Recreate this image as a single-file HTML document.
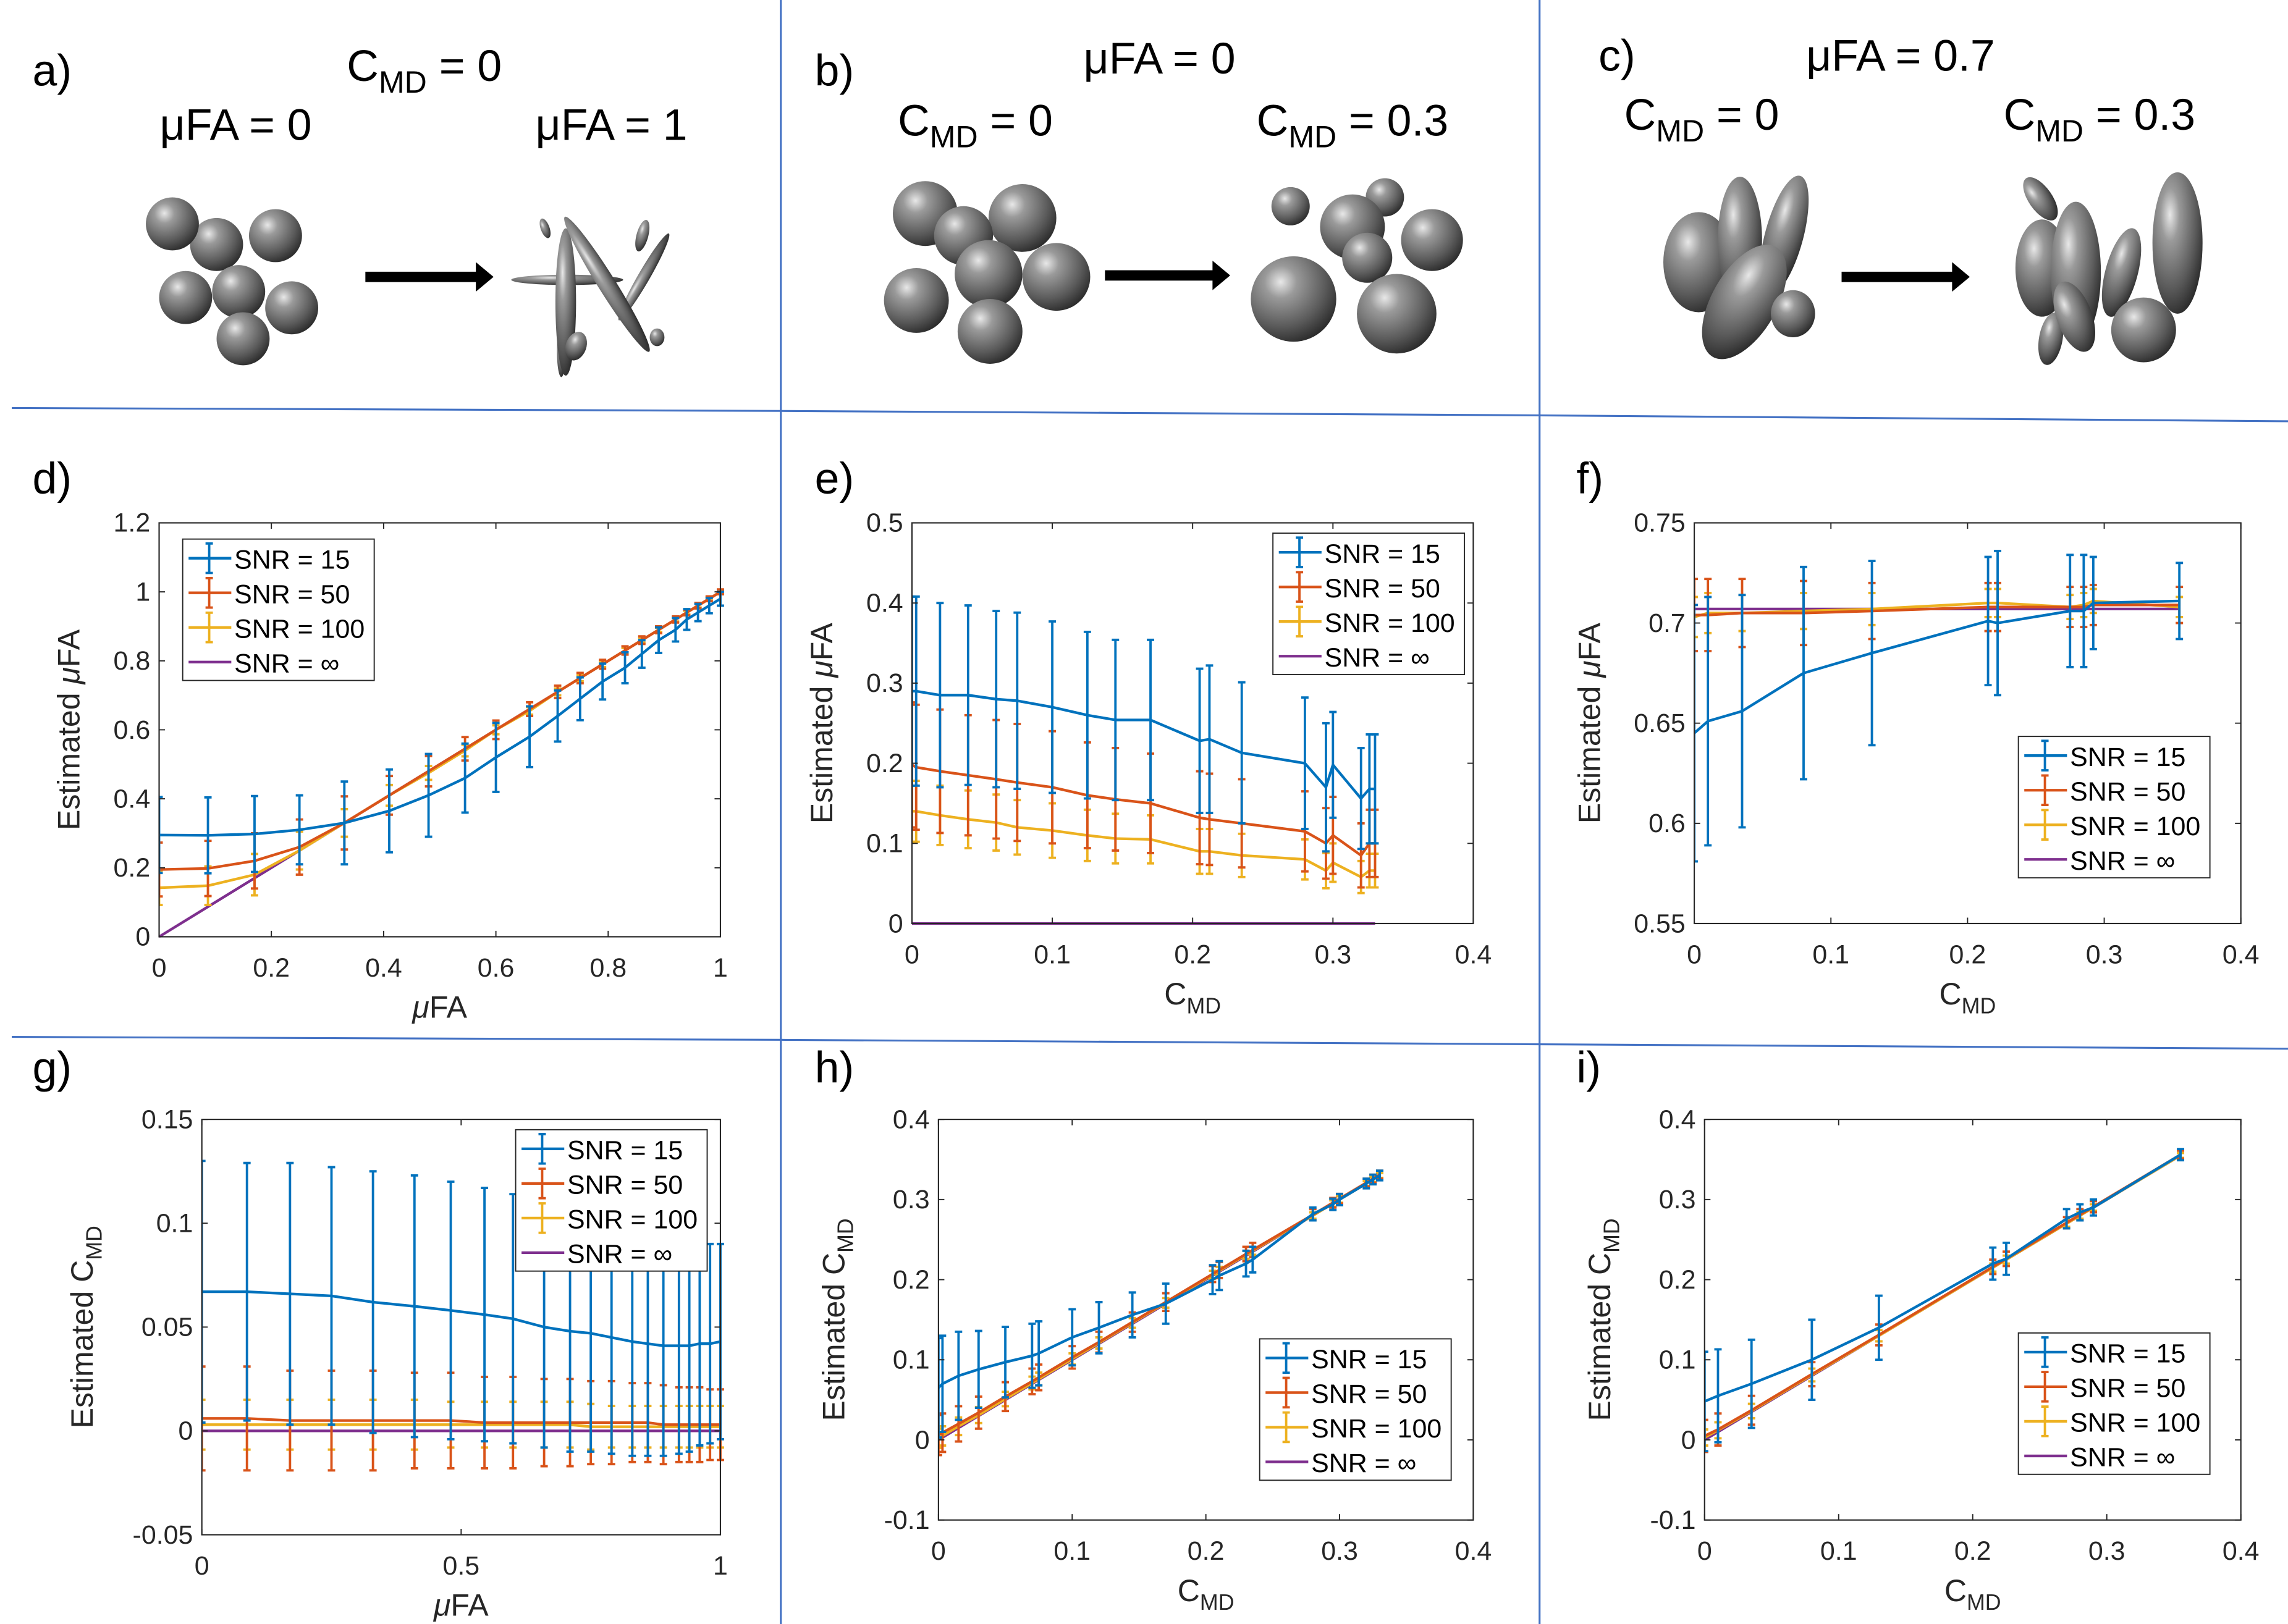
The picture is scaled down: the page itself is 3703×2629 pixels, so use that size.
<!DOCTYPE html>
<html><head><meta charset="utf-8"><style>
html,body{margin:0;padding:0;background:#fff}
svg{display:block}
text{font-family:"Liberation Sans",sans-serif}
</style></head><body>
<svg id="fig" xmlns="http://www.w3.org/2000/svg" width="3703" height="2629" viewBox="0 0 1553 1102.6" preserveAspectRatio="none">
<defs>
<radialGradient id="sph" cx="0.35" cy="0.3" r="0.75"><stop offset="0" stop-color="#e8e8e8"/><stop offset="0.25" stop-color="#9a9a9a"/><stop offset="0.7" stop-color="#5a5a5a"/><stop offset="1" stop-color="#2a2a2a"/></radialGradient>
</defs>
<g stroke="#4472c4" stroke-width="1.3">
<line x1="530" y1="0" x2="530" y2="1103"/><line x1="1045" y1="0" x2="1045" y2="1103"/>
<line x1="8" y1="277" x2="530" y2="279"/><line x1="530" y1="279" x2="1045" y2="282"/><line x1="1045" y1="282" x2="1553" y2="286"/>
<line x1="8" y1="704" x2="530" y2="706"/><line x1="530" y1="706" x2="1045" y2="709"/><line x1="1045" y1="709" x2="1553" y2="712"/>
</g>
<g id="topIllus"></g>
<g id="plots"></g>
</svg>
<script>
// ---------- Data ----------
const dX=[0,0.087,0.17,0.25,0.33,0.41,0.48,0.545,0.6,0.66,0.71,0.75,0.79,0.83,0.86,0.89,0.92,0.94,0.96,0.98,1.0];
const dS15=[0.295,0.294,0.298,0.31,0.33,0.365,0.41,0.46,0.52,0.58,0.64,0.69,0.74,0.78,0.82,0.86,0.89,0.92,0.94,0.96,0.98];
const dE15=[0.11,0.11,0.11,0.1,0.12,0.12,0.12,0.1,0.1,0.088,0.074,0.062,0.052,0.045,0.04,0.037,0.034,0.03,0.025,0.022,0.02];
const dS50=[0.195,0.198,0.22,0.26,0.33,0.41,0.48,0.545,0.6,0.66,0.71,0.75,0.79,0.83,0.86,0.89,0.92,0.94,0.96,0.98,1.0];
const dE50=[0.078,0.08,0.08,0.08,0.077,0.056,0.044,0.034,0.027,0.02,0.018,0.015,0.013,0.012,0.011,0.01,0.009,0.008,0.008,0.007,0.007];
const dS100=[0.142,0.148,0.18,0.25,0.33,0.41,0.475,0.54,0.6,0.655,0.71,0.75,0.79,0.83,0.86,0.89,0.92,0.94,0.96,0.98,1.0];
const dE100=[0.05,0.056,0.06,0.055,0.04,0.03,0.02,0.017,0.013,0.011,0.01,0.009,0.008,0.007,0.007,0.006,0.006,0.005,0.005,0.005,0.005];
const dInf=[0,0.087,0.17,0.25,0.33,0.41,0.48,0.545,0.6,0.66,0.71,0.75,0.79,0.83,0.86,0.89,0.92,0.94,0.96,0.98,1.0];

const eX=[0,0.003,0.02,0.04,0.06,0.075,0.1,0.125,0.145,0.17,0.205,0.212,0.235,0.28,0.295,0.3,0.32,0.326,0.33];
const eS15=[0.29,0.29,0.285,0.285,0.28,0.278,0.27,0.26,0.254,0.254,0.228,0.23,0.213,0.2,0.17,0.198,0.156,0.168,0.168];
const eE15=[0.118,0.118,0.115,0.112,0.11,0.11,0.107,0.104,0.1,0.1,0.09,0.092,0.088,0.082,0.08,0.066,0.063,0.068,0.068];
const eS50=[0.198,0.195,0.19,0.185,0.18,0.176,0.17,0.16,0.155,0.15,0.132,0.13,0.125,0.115,0.1,0.11,0.085,0.1,0.1];
const eE50=[0.078,0.078,0.077,0.075,0.074,0.073,0.07,0.066,0.064,0.062,0.058,0.057,0.055,0.05,0.044,0.048,0.04,0.042,0.042];
const eS100=[0.14,0.14,0.135,0.13,0.126,0.12,0.116,0.11,0.106,0.105,0.09,0.09,0.085,0.08,0.066,0.076,0.058,0.066,0.066];
const eE100=[0.038,0.038,0.037,0.036,0.035,0.034,0.034,0.032,0.031,0.03,0.028,0.028,0.027,0.025,0.022,0.024,0.02,0.021,0.021];
const eInf=[0,0,0,0,0,0,0,0,0,0,0,0,0,0,0,0,0,0,0];

const fX=[0,0.01,0.035,0.08,0.13,0.215,0.222,0.275,0.285,0.292,0.355];
const fS15=[0.645,0.651,0.656,0.675,0.685,0.701,0.7,0.706,0.706,0.71,0.711];
const fE15=[0.064,0.062,0.058,0.053,0.046,0.032,0.036,0.028,0.028,0.023,0.019];
const fS50=[0.704,0.704,0.705,0.705,0.706,0.708,0.708,0.708,0.708,0.709,0.709];
const fE50=[0.018,0.018,0.017,0.016,0.014,0.012,0.012,0.01,0.01,0.01,0.009];
const fS100=[0.703,0.705,0.705,0.706,0.707,0.71,0.71,0.708,0.709,0.711,0.708];
const fE100=[0.01,0.01,0.009,0.009,0.008,0.007,0.007,0.006,0.006,0.006,0.005];
const fInf=[0.707,0.707,0.707,0.707,0.707,0.707,0.707,0.707,0.707,0.707,0.707];

const gX=[0,0.087,0.17,0.25,0.33,0.41,0.48,0.545,0.6,0.66,0.71,0.75,0.79,0.83,0.86,0.89,0.92,0.94,0.96,0.98,1.0];
const gS15=[0.067,0.067,0.066,0.065,0.062,0.06,0.058,0.056,0.054,0.05,0.048,0.047,0.045,0.043,0.042,0.041,0.041,0.041,0.042,0.042,0.043];
const gE15=[0.063,0.062,0.063,0.062,0.063,0.063,0.062,0.061,0.06,0.058,0.058,0.057,0.056,0.055,0.054,0.053,0.052,0.051,0.049,0.048,0.047];
const gS50=[0.006,0.006,0.005,0.005,0.005,0.005,0.005,0.004,0.004,0.004,0.004,0.004,0.004,0.004,0.004,0.003,0.003,0.003,0.003,0.003,0.003];
const gE50=[0.025,0.025,0.024,0.024,0.024,0.023,0.023,0.022,0.022,0.021,0.021,0.02,0.02,0.019,0.019,0.019,0.018,0.018,0.018,0.017,0.017];
const gS100=[0.003,0.003,0.003,0.003,0.003,0.003,0.003,0.003,0.003,0.003,0.003,0.002,0.002,0.002,0.002,0.002,0.002,0.002,0.002,0.002,0.002];
const gE100=[0.012,0.012,0.012,0.012,0.012,0.012,0.011,0.011,0.011,0.011,0.011,0.011,0.01,0.01,0.01,0.01,0.01,0.01,0.01,0.01,0.01];
const gInf=[0,0,0,0,0,0,0,0,0,0,0,0,0,0,0,0,0,0,0,0,0];

const hX=[0,0.003,0.015,0.03,0.05,0.07,0.075,0.1,0.12,0.145,0.17,0.205,0.21,0.23,0.235,0.28,0.295,0.3,0.32,0.325,0.33];
const hS15=[0.065,0.07,0.08,0.088,0.097,0.105,0.108,0.128,0.14,0.156,0.17,0.2,0.205,0.22,0.225,0.282,0.294,0.3,0.32,0.325,0.33];
const hE15=[0.062,0.06,0.055,0.048,0.044,0.04,0.04,0.035,0.032,0.028,0.025,0.018,0.018,0.016,0.016,0.008,0.007,0.007,0.006,0.006,0.006];
const hS50=[0.006,0.009,0.02,0.034,0.054,0.073,0.078,0.103,0.122,0.147,0.172,0.207,0.212,0.232,0.237,0.281,0.296,0.301,0.321,0.326,0.331];
const hE50=[0.025,0.024,0.022,0.02,0.018,0.016,0.016,0.014,0.013,0.012,0.011,0.01,0.01,0.009,0.009,0.007,0.006,0.006,0.005,0.005,0.005];
const hS100=[0.002,0.005,0.017,0.031,0.051,0.071,0.076,0.101,0.121,0.146,0.171,0.206,0.211,0.231,0.236,0.28,0.295,0.3,0.32,0.325,0.33];
const hE100=[0.012,0.012,0.011,0.01,0.009,0.008,0.008,0.007,0.007,0.006,0.006,0.005,0.005,0.005,0.005,0.004,0.004,0.004,0.003,0.003,0.003];
const hInf=[0,0.003,0.015,0.03,0.05,0.07,0.075,0.1,0.12,0.145,0.17,0.205,0.21,0.23,0.235,0.28,0.295,0.3,0.32,0.325,0.33];

const iX=[0,0.01,0.035,0.08,0.13,0.215,0.225,0.27,0.28,0.29,0.355];
const iS15=[0.048,0.055,0.07,0.1,0.14,0.22,0.226,0.276,0.284,0.29,0.356];
const iE15=[0.062,0.058,0.055,0.05,0.04,0.02,0.02,0.012,0.01,0.01,0.007];
const iS50=[0.005,0.013,0.037,0.082,0.131,0.216,0.226,0.271,0.281,0.291,0.356];
const iE50=[0.02,0.02,0.018,0.015,0.013,0.009,0.009,0.007,0.007,0.007,0.005];
const iS100=[0.003,0.012,0.036,0.081,0.13,0.215,0.225,0.27,0.28,0.29,0.355];
const iE100=[0.01,0.01,0.009,0.008,0.007,0.005,0.005,0.004,0.004,0.004,0.003];
const iInf=[0,0.01,0.035,0.08,0.13,0.215,0.225,0.27,0.28,0.29,0.355];

const tickD=["0","0.2","0.4","0.6","0.8","1","1.2"];
const legendLabels=["SNR = 15","SNR = 50","SNR = 100","SNR = \u221E"];

// ---------- Drawing ----------
const NS="http://www.w3.org/2000/svg";
const colors=["#0072BD","#D95319","#EDB120","#7E2F8E"];
function mk(tag,attrs,parent){const e=document.createElementNS(NS,tag);for(const k in attrs)e.setAttribute(k,attrs[k]);if(parent)parent.appendChild(e);return e;}

const panels=[
 {id:"d",letter:"d)",lx:22,ly:335,box:[108,355,489,636],xd:[0,1],yd:[0,1.2],xt:[0,0.2,0.4,0.6,0.8,1],xl:["0","0.2","0.4","0.6","0.8","1"],yt:[0,0.2,0.4,0.6,0.8,1,1.2],yl:tickD,xlab:"mu",ylab:"mu",x:dX,s:[dS15,dS50,dS100,dInf],e:[dE15,dE50,dE100],leg:[124,366]},
 {id:"e",letter:"e)",lx:553,ly:335,box:[619,355,1000,627],xd:[0,0.4],yd:[0,0.5],xt:[0,0.1,0.2,0.3,0.4],xl:["0","0.1","0.2","0.3","0.4"],yt:[0,0.1,0.2,0.3,0.4,0.5],yl:["0","0.1","0.2","0.3","0.4","0.5"],xlab:"c",ylab:"mu",x:eX,s:[eS15,eS50,eS100,eInf],e:[eE15,eE50,eE100],leg:[864,362]},
 {id:"f",letter:"f)",lx:1070,ly:335,box:[1150,355,1521,627],xd:[0,0.4],yd:[0.55,0.75],xt:[0,0.1,0.2,0.3,0.4],xl:["0","0.1","0.2","0.3","0.4"],yt:[0.55,0.6,0.65,0.7,0.75],yl:["0.55","0.6","0.65","0.7","0.75"],xlab:"c",ylab:"mu",x:fX,s:[fS15,fS50,fS100,fInf],e:[fE15,fE50,fE100],leg:[1370,500]},
 {id:"g",letter:"g)",lx:22,ly:735,box:[137,760,489,1042],xd:[0,1],yd:[-0.05,0.15],xt:[0,0.5,1],xl:["0","0.5","1"],yt:[-0.05,0,0.05,0.1,0.15],yl:["-0.05","0","0.05","0.1","0.15"],xlab:"mu",ylab:"c",x:gX,s:[gS15,gS50,gS100,gInf],e:[gE15,gE50,gE100],leg:[350,767]},
 {id:"h",letter:"h)",lx:553,ly:735,box:[637,760,1000,1032],xd:[0,0.4],yd:[-0.1,0.4],xt:[0,0.1,0.2,0.3,0.4],xl:["0","0.1","0.2","0.3","0.4"],yt:[-0.1,0,0.1,0.2,0.3,0.4],yl:["-0.1","0","0.1","0.2","0.3","0.4"],xlab:"c",ylab:"c",x:hX,s:[hS15,hS50,hS100,hInf],e:[hE15,hE50,hE100],leg:[855,909]},
 {id:"i",letter:"i)",lx:1070,ly:735,box:[1157,760,1521,1032],xd:[0,0.4],yd:[-0.1,0.4],xt:[0,0.1,0.2,0.3,0.4],xl:["0","0.1","0.2","0.3","0.4"],yt:[-0.1,0,0.1,0.2,0.3,0.4],yl:["-0.1","0","0.1","0.2","0.3","0.4"],xlab:"c",ylab:"c",x:iX,s:[iS15,iS50,iS100,iInf],e:[iE15,iE50,iE100],leg:[1370,905]}
];
const plots=document.getElementById("plots");
panels.forEach(p=>{
 const g=mk("g",{},plots);
 
 
 const [x0,y0,x1,y1]=p.box;
 const sx=v=>x0+(v-p.xd[0])/(p.xd[1]-p.xd[0])*(x1-x0);
 const sy=v=>y1-(v-p.yd[0])/(p.yd[1]-p.yd[0])*(y1-y0);
 const lt=mk("text",{x:p.lx,y:p.ly,"font-size":30},g);lt.textContent=p.letter;
 
 
 const cg=mk("clipPath",{id:"clip"+p.id},g);mk("rect",{x:x0,y:y0-2,width:x1-x0+3,height:y1-y0+4},cg);
 const sg=mk("g",{"clip-path":"url(#clip"+p.id+")"},g);
 for(let k=3;k>=0;k--){
  const ys=p.s[k];
  let d="";p.x.forEach((xv,i)=>{d+=(i?"L":"M")+sx(xv).toFixed(2)+","+sy(ys[i]).toFixed(2);});
  const pl=mk("path",{d:d,fill:"none",stroke:colors[k],"stroke-width":1.8},sg);
  
  
  if(k<3){
   p.x.forEach((xv,i)=>{
    const xx=sx(xv),ya=sy(ys[i]-p.e[k][i]),yb=sy(ys[i]+p.e[k][i]);
    const eb=mk("path",{d:`M${xx},${ya}L${xx},${yb}M${xx-2.5},${ya}L${xx+2.5},${ya}M${xx-2.5},${yb}L${xx+2.5},${yb}`,stroke:colors[k],"stroke-width":1.6,fill:"none"},sg);
    
    
   });
  }
 }
 const bx=mk("rect",{x:x0,y:y0,width:x1-x0,height:y1-y0,fill:"none",stroke:"#262626","stroke-width":0.9},g);
 
 
 p.xt.forEach((t,i)=>{const x=sx(t);mk("path",{d:`M${x},${y1}v-4M${x},${y0}v4`,stroke:"#262626","stroke-width":0.8},g);
  const tx=mk("text",{x:x,y:y1+27,"font-size":18,"text-anchor":"middle",fill:"#262626"},g);tx.textContent=p.xl[i];
  
  });
 p.yt.forEach((t,i)=>{const y=sy(t);mk("path",{d:`M${x0},${y}h4M${x1},${y}h-4`,stroke:"#262626","stroke-width":0.8},g);
  const tx=mk("text",{x:x0-6,y:y+6,"font-size":18,"text-anchor":"end",fill:"#262626"},g);tx.textContent=p.yl[i];
  
  });
 const xl=mk("text",{x:(x0+x1)/2,y:y1+55,"font-size":21,"text-anchor":"middle",fill:"#262626"},g);
 
 
 if(p.xlab==="mu"){xl.innerHTML='<tspan font-style="italic">μ</tspan>FA';}
 else{xl.innerHTML='C<tspan font-size="15" dy="6">MD</tspan>';}
 const lw=p.yl.reduce((m,s)=>Math.max(m,s.length),0)*10+10;
 const yx=x0-lw-14,yc=(y0+y1)/2;
 const yl=mk("text",{x:yx,y:yc,"font-size":21,"text-anchor":"middle",fill:"#262626",transform:`rotate(-90 ${yx} ${yc})`},g);
 
 
 if(p.ylab==="mu"){yl.innerHTML='Estimated <tspan font-style="italic">μ</tspan>FA';}
 else{yl.innerHTML='Estimated C<tspan font-size="15" dy="6">MD</tspan>';}
 const [lx,ly]=p.leg;
 const lg=mk("g",{},g);
 
 
 mk("rect",{x:lx,y:ly,width:130,height:96,fill:"#fff",stroke:"#262626","stroke-width":0.8},lg);
 for(let k=0;k<4;k++){
  const yy=ly+13+k*23.5;
  const en=mk("g",{},lg);
  
  
  mk("line",{x1:lx+4,y1:yy,x2:lx+33,y2:yy,stroke:colors[k],"stroke-width":1.8},en);
  if(k<3)mk("path",{d:`M${lx+18},${yy-10}v20M${lx+15.5},${yy-10}h5M${lx+15.5},${yy+10}h5`,stroke:colors[k],"stroke-width":1.6},en);
  const t=mk("text",{x:lx+35,y:yy+7,"font-size":18,fill:"#000"},en);t.textContent=legendLabels[k];
 }
});

// ---------- Top illustrations ----------
const topG=document.getElementById("topIllus");
function T(x,y,html,size,anchor,name){const t=mk("text",{x:x,y:y,"font-size":size||30,"text-anchor":anchor||"start"},topG);t.innerHTML=html;
 
 }
const cmd=v=>'C<tspan font-size="21" dy="8">MD</tspan><tspan dy="-8"> = '+v+'</tspan>';
T(22,58,"a)",30,"start","panel-label");T(553,58,"b)",30,"start","panel-label");T(1085,48,"c)",30,"start","panel-label");
T(288,55,cmd("0"),30,"middle","title-a");T(160,95,"μFA = 0",30,"middle","label-left");T(415,95,"μFA = 1",30,"middle","label-right");
T(787,50,"μFA = 0",30,"middle","title-b");T(662,92,cmd("0"),30,"middle","label-left");T(918,92,cmd("0.3"),30,"middle","label-right");
T(1290,48,"μFA = 0.7",30,"middle","title-c");T(1155,88,cmd("0"),30,"middle","label-left");T(1425,88,cmd("0.3"),30,"middle","label-right");
function S(cx,cy,r){mk("circle",{cx:cx,cy:cy,r:r,fill:"url(#sph)"},topG);}
function E(cx,cy,rx,ry,rot){mk("ellipse",{cx:cx,cy:cy,rx:rx,ry:ry,fill:"url(#sph)",transform:`rotate(${rot} ${cx} ${cy})`},topG);}
function A(x1,x2,y){mk("path",{d:`M${x1},${y-3.5}H${x2-12}V${y-10}L${x2},${y}L${x2-12},${y+10}V${y+3.5}H${x1}Z`,fill:"#000"},topG);}
S(147,166,18);S(117,152,18);S(187,160,18);S(162,198,18);S(126,202,18);S(198,209,18);S(165,230,18);
A(248,335,188);
E(385,190,38,3.5,0);E(381,238,3,18,0);E(384,205,7,50,0);E(437,188,34,4,-60);E(412,193,6,54,-32);E(436,160,4,11,15);E(391,235,7,10,20);E(446,229,5,6,0);E(370,155,3,7,-20);
S(628,145,22);S(694,148,23);S(654,160,20);S(671,186,23);S(717,188,23);S(622,204,22);S(672,225,22);
A(750,835,187);
S(876,140,13);S(940,134,13);S(918,154,22);S(972,163,21);S(928,175,17);S(878,203,29);S(948,213,27);
E(1153,178,24,34,0);E(1181,163,15,43,0);E(1211,160,13,42,15);E(1184,205,22,43,30);E(1217,213,15,16,0);
A(1250,1337,188);
E(1385,135,8,17,-35);E(1386,182,18,33,0);E(1409,185,17,48,0);E(1478,165,17,48,0);E(1440,185,11,31,15);E(1392,230,8,18,10);E(1408,215,12,25,-20);E(1455,224,22,22,0);
</script>
</body></html>
